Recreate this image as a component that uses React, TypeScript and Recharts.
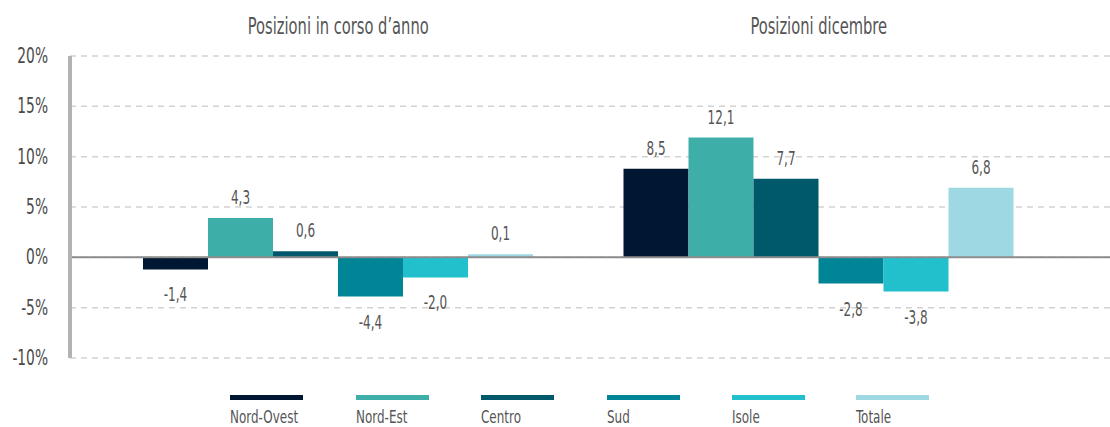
import React from "react";
import {
  BarChart,
  Bar,
  XAxis,
  YAxis,
  CartesianGrid,
  ReferenceLine,
  LabelList,
} from "recharts";

const categories = ["Posizioni in corso d’anno", "Posizioni dicembre"];
const seriesNames = ["Nord-Ovest", "Nord-Est", "Centro", "Sud", "Isole", "Totale"];
const seriesColors = ["#001733", "#3eafa8", "#00586b", "#008597", "#22bfcd", "#9dd8e3"];

// bar heights as drawn
const nordOvest = [-1.2, 8.8];
const nordEst = [3.9, 11.9];
const centro = [0.6, 7.8];
const sud = [-3.9, -2.6];
const isole = [-2.0, -3.4];
const totale = [0.3, 6.9];

// printed labels
const nordOvestLabels = [-1.4, 8.5];
const nordEstLabels = [4.3, 12.1];
const centroLabels = [0.6, 7.7];
const sudLabels = [-4.4, -2.8];
const isoleLabels = [-2.0, -3.8];
const totaleLabels = [0.1, 6.8];

const yTicks = [-10, -5, 0, 5, 10, 15, 20];

const seriesValues = [nordOvest, nordEst, centro, sud, isole, totale];
const seriesLabels = [nordOvestLabels, nordEstLabels, centroLabels, sudLabels, isoleLabels, totaleLabels];

const data = categories.map((name, i) => {
  const row: Record<string, string | number> = { name };
  seriesNames.forEach((s, j) => {
    row[`s${j}`] = seriesValues[j][i];
    row[`l${j}`] = seriesLabels[j][i];
  });
  return row;
});

const FONT = "'Liberation Sans Narrow', 'DejaVu Sans Condensed', 'Roboto Condensed', sans-serif";
const fmt = (v: number) => v.toFixed(1).replace(".", ",");

// condensed look: squeeze glyphs horizontally
const CondText = ({ x, y, sx = 0.7, size = 20, anchor = "middle", fill = "#555", children }: any) => (
  <text
    transform={`translate(${x},${y}) scale(${sx},1)`}
    textAnchor={anchor}
    fontSize={size}
    fontFamily={FONT}
    fill={fill}
  >
    {children}
  </text>
);

const YTick = ({ x, y, payload }: any) => (
  <CondText x={x} y={y + 7} sx={0.73} size={21} anchor="end" fill="#4a4a4a">
    {`${payload.value}%`}
  </CondText>
);

const TitleTick = ({ x, payload }: any) => (
  <CondText x={x} y={34} sx={0.71} size={23} fill="#555">
    {payload.value}
  </CondText>
);

const BarLabel = ({ x, y, width, height, value }: any) => {
  const v = Number(value);
  const top = Math.min(y, y + height);
  const bottom = Math.max(y, y + height);
  const cx = x + width / 2;
  const ty = v < 0 ? bottom + 32 : top - 14;
  return (
    <CondText x={cx} y={ty} sx={0.67} size={20} fill="#555">
      {fmt(v)}
    </CondText>
  );
};

const legendX = [230, 356, 481, 607, 732, 856];

export default function App() {
  return (
    <div style={{ position: "absolute", left: 0, top: 0, width: 1110, height: 427, background: "#fff" }}>
      <BarChart
        width={1110}
        height={427}
        data={data}
        margin={{ top: 16, right: 0, bottom: 69, left: 0 }}
        barGap={0}
        barSize={65}
      >
        <CartesianGrid
          vertical={false}
          stroke="#d2d2d2"
          strokeWidth={1.5}
          strokeDasharray="6 5"
        />
        <XAxis
          dataKey="name"
          orientation="top"
          height={40}
          axisLine={false}
          tickLine={false}
          padding={{ left: 28, right: 51 }}
          tick={<TitleTick />}
          interval={0}
        />
        <YAxis
          domain={[-10, 20]}
          ticks={yTicks}
          width={70}
          tickSize={0}
          tickMargin={22}
          tickLine={false}
          axisLine={{ stroke: "#b3b3b3", strokeWidth: 4 }}
          tick={<YTick />}
          interval={0}
        />
        <ReferenceLine y={0} stroke="#8c8c8c" strokeWidth={2} />
        {seriesNames.map((s, j) => (
          <Bar key={s} dataKey={`s${j}`} name={s} fill={seriesColors[j]} isAnimationActive={false}>
            <LabelList dataKey={`l${j}`} content={<BarLabel />} />
          </Bar>
        ))}
      </BarChart>
      <svg width={1110} height={427} style={{ position: "absolute", left: 0, top: 0, pointerEvents: "none" }}>
        {seriesNames.map((s, j) => (
          <g key={s}>
            <rect x={legendX[j]} y={395} width={73} height={5} fill={seriesColors[j]} />
            <CondText x={legendX[j]} y={422.5} sx={0.74} size={18} anchor="start" fill="#555">
              {s}
            </CondText>
          </g>
        ))}
      </svg>
    </div>
  );
}
